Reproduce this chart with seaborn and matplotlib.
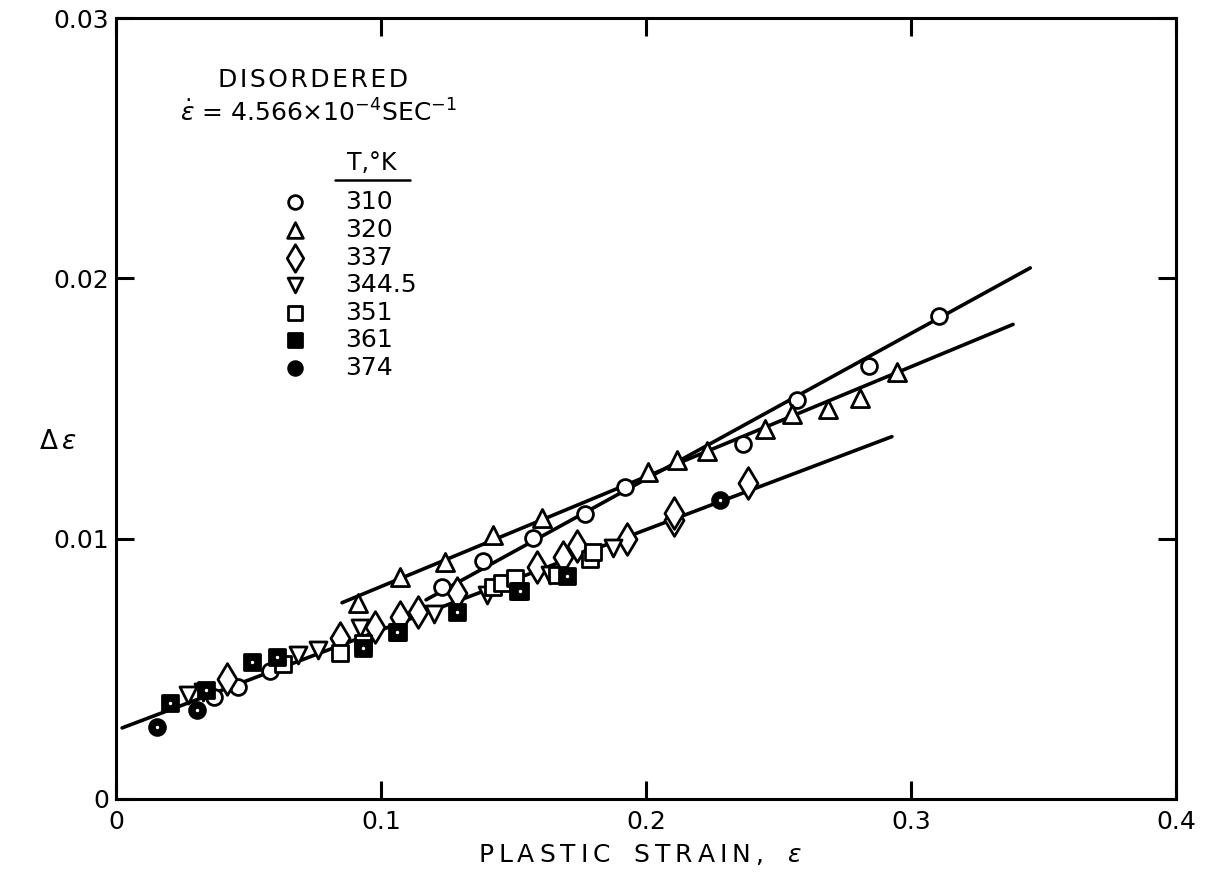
import numpy as np
import pandas as pd
import matplotlib
matplotlib.use("Agg")
import matplotlib.pyplot as plt
import seaborn as sns

# ---------------- data ----------------
temps = ["310", "320", "337", "344.5", "351", "361", "374"]

x_310 = [0.037, 0.046, 0.058, 0.1230, 0.1385, 0.1574, 0.1770, 0.1921, 0.2366, 0.2570, 0.2842, 0.3106]
y_310 = [0.0039, 0.0043, 0.0049, 0.00815, 0.00915, 0.01004, 0.01096, 0.0120, 0.01362, 0.01531, 0.01662, 0.01854]

x_320 = [0.0913, 0.1072, 0.1242, 0.1423, 0.1608, 0.2008, 0.2117, 0.2230, 0.2449, 0.2551, 0.2687, 0.2808, 0.2947]
y_320 = [0.00754, 0.00854, 0.00912, 0.01015, 0.01081, 0.01258, 0.01304, 0.01335, 0.01423, 0.01477, 0.0150, 0.01542, 0.01642]

x_337 = [0.042, 0.0845, 0.0977, 0.1072, 0.114, 0.1287, 0.159, 0.1687, 0.174, 0.1928, 0.2106, 0.2106, 0.2385]
y_337 = [0.0046, 0.0062, 0.0066, 0.0070, 0.0072, 0.0079, 0.0089, 0.0093, 0.0097, 0.0100, 0.0107, 0.0110, 0.01215]

x_3445 = [0.0272, 0.033, 0.0687, 0.0762, 0.092, 0.120, 0.140, 0.1638, 0.1875]
y_3445 = [0.0040, 0.0041, 0.00554, 0.00573, 0.00658, 0.0071, 0.00785, 0.0086, 0.00965]

x_351 = [0.063, 0.0845, 0.0932, 0.1064, 0.1423, 0.1457, 0.1506, 0.1517, 0.1664, 0.1789, 0.180]
y_351 = [0.0052, 0.0056, 0.0060, 0.0064, 0.00815, 0.0083, 0.0085, 0.0080, 0.0086, 0.0092, 0.0095]

x_361 = [0.0204, 0.034, 0.0513, 0.0608, 0.0932, 0.106, 0.1287, 0.1525, 0.170]
y_361 = [0.0037, 0.0042, 0.00527, 0.00546, 0.0058, 0.0064, 0.0072, 0.0080, 0.00855]

x_374 = [0.0155, 0.0306, 0.228]
y_374 = [0.00277, 0.00342, 0.0115]

# fitted straight lines (end points)
line_names = ["310", "320", "low"]
line_x0 = [0.117, 0.0853, 0.0023]
line_y0 = [0.00765, 0.00754, 0.00273]
line_x1 = [0.345, 0.3385, 0.2928]
line_y1 = [0.0204, 0.01823, 0.01392]

x_ticks = [0, 0.1, 0.2, 0.3, 0.4]
x_ticklabels = ["0", "0.1", "0.2", "0.3", "0.4"]
y_ticks = [0, 0.01, 0.02, 0.03]
y_ticklabels = ["0", "0.01", "0.02", "0.03"]

# ---------------- build frames ----------------
series = {
    "310": (x_310, y_310), "320": (x_320, y_320), "337": (x_337, y_337),
    "344.5": (x_3445, y_3445), "351": (x_351, y_351), "361": (x_361, y_361),
    "374": (x_374, y_374),
}
pts = pd.concat([pd.DataFrame({"strain": xs, "dE": ys, "T": t}) for t, (xs, ys) in series.items()],
                ignore_index=True)
lines = pd.DataFrame({
    "strain": line_x0 + line_x1,
    "dE": line_y0 + line_y1,
    "fit": line_names + line_names,
})

sns.set_theme(style="white")
plt.rcParams["font.family"] = ["DejaVu Sans"]
plt.rcParams["mathtext.fontset"] = "dejavusans"
plt.rcParams["text.color"] = "black"
plt.rcParams["axes.labelcolor"] = "black"
plt.rcParams["xtick.color"] = "black"
plt.rcParams["ytick.color"] = "black"

fig = plt.figure(figsize=(12.09, 8.82), dpi=100)
ax = fig.add_axes([116 / 1209, 1 - 799 / 882, 1060 / 1209, 781 / 882])

sns.lineplot(data=lines, x="strain", y="dE", units="fit", estimator=None,
             color="black", lw=2.6, ax=ax, legend=False, zorder=2)

style = {
    "310": dict(marker="o", s=130, fc="white"),
    "320": dict(marker="^", s=170, fc="white"),
    "337": dict(marker="d", s=260, fc="white"),
    "344.5": dict(marker="v", s=150, fc="white"),
    "351": dict(marker="s", s=120, fc="white"),
    "361": dict(marker="s", s=120, fc="black"),
    "374": dict(marker="o", s=130, fc="black"),
}
for t in temps:
    st = style[t]
    sub = pts[pts["T"] == t]
    sns.scatterplot(data=sub, x="strain", y="dE", marker=st["marker"], s=st["s"],
                    facecolor=st["fc"], edgecolor="black", linewidth=2.0, ax=ax,
                    legend=False, zorder=3)
    if st["fc"] == "black":
        sns.scatterplot(data=sub, x="strain", y="dE", marker="o", s=6, color="white",
                        linewidth=0, ax=ax, legend=False, zorder=4)

ax.set_xlim(0, 0.4)
ax.set_ylim(0, 0.03)
ax.set_xticks(x_ticks)
ax.set_xticklabels(x_ticklabels)
ax.set_yticks(y_ticks)
ax.set_yticklabels(y_ticklabels)
ax.tick_params(direction="in", length=13, width=2.2, top=True, right=True,
               left=True, bottom=True, labelsize=18, colors="black")
ax.tick_params(axis="x", pad=8)
ax.tick_params(axis="y", pad=5)
for sp in ax.spines.values():
    sp.set_visible(True)
    sp.set_linewidth(2.2)
    sp.set_color("black")

xl = "\u2009".join("PLASTIC") + "   " + "\u2009".join("STRAIN,") + "   $\\varepsilon$"
ax.set_xlabel(xl, fontsize=18)
ax.set_ylabel("$\\Delta\\,\\varepsilon$", fontsize=19, rotation=0)
ax.xaxis.set_label_coords(0.494, -0.055)
ax.yaxis.set_label_coords(-0.055, 0.44)

# annotation block
ax.text(0.186, 0.9206, "\u200a".join("DISORDERED"), transform=ax.transAxes,
        ha="center", va="center", fontsize=18)
ax.text(0.191, 0.879, "$\\dot{\\varepsilon}$ = 4.566$\\times$10$^{-4}$SEC$^{-1}$",
        transform=ax.transAxes, ha="center", va="center", fontsize=18)
ax.text(0.2415, 0.814, "T,°K", transform=ax.transAxes, ha="center", va="center", fontsize=17)
ax.plot([0.2066, 0.277], [0.7926, 0.7926], transform=ax.transAxes, color="black", lw=1.8)

rows_y = np.linspace(0.764, 0.552, len(temps))
for t, yy in zip(temps, rows_y):
    st = style[t]
    ax.scatter([0.169], [yy], transform=ax.transAxes, marker=st["marker"],
               s=st["s"] * 0.75, facecolor=st["fc"], edgecolor="black", linewidth=2.0,
               zorder=5, clip_on=False)
    ax.text(0.216, yy, t, transform=ax.transAxes, ha="left", va="center", fontsize=18)

fig.savefig("out.png", dpi=100, facecolor="white")
